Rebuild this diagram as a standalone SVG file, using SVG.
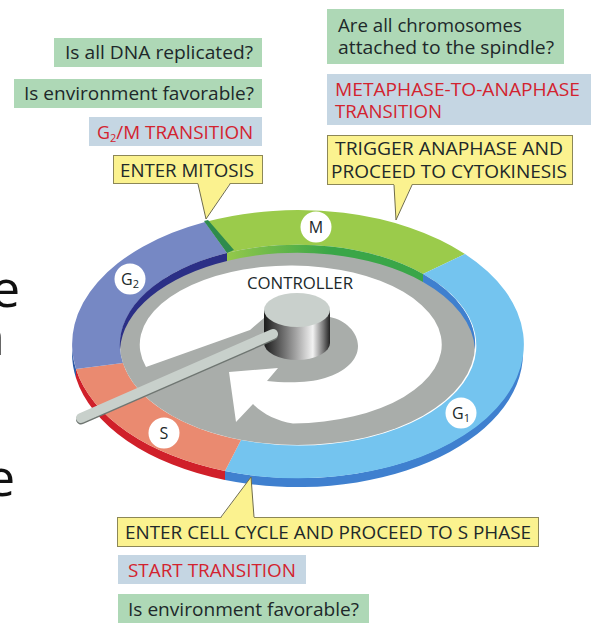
<svg xmlns="http://www.w3.org/2000/svg" width="603" height="635" viewBox="0 0 603 635">
<style>
text{font-family:"Open Sans","Noto Sans","Liberation Sans",sans-serif;font-size:18px;fill:#20282a}
.r{fill:#d3232f}
.q{fill:#aed8b6}
.t{fill:#c5d6e3}
.a{fill:#fbf28f;stroke:#8c8757;stroke-width:1}
.c{fill:#fff}
.p{fill:#fbf28f}
.pl{fill:none;stroke:#6f6c4a;stroke-width:1}
.l{font-size:16px;text-anchor:middle}
.b{font-size:52px;fill:#111}
</style>
<defs>
<linearGradient id="cyl" x1="0" x2="1" y1="0" y2="0">
<stop offset="0" stop-color="#1c1c1c"/><stop offset=".12" stop-color="#3c3c3c"/><stop offset=".5" stop-color="#a8a8a8"/><stop offset=".74" stop-color="#f2f2f2"/><stop offset=".9" stop-color="#777"/><stop offset="1" stop-color="#222"/>
</linearGradient>
<linearGradient id="mw" gradientUnits="userSpaceOnUse" x1="227" x2="330" y1="0" y2="0">
<stop offset="0" stop-color="#94c84b"/><stop offset="1" stop-color="#3aa648"/>
</linearGradient>
</defs>
<g id="background-fragments">
<text class="b" x="-9" y="307">e</text>
<text class="b" x="-27" y="355">n</text>
<text class="b" x="-14" y="496">e</text>
</g>
<g id="wheel">
<path fill="#3f80cf" d="M523,344 L523,353 A225.5 134 0 0 1 225,480 L225,471 A225.5 134 0 0 0 523,344 Z"/>
<path fill="#d0202a" d="M225,480 A225.5 134 0 0 1 76,378 L76,369 A225.5 134 0 0 0 225,471 Z"/>
<path fill="#2f5ca8" d="M76,378 A225.5 134 0 0 1 72,353 L72,344 A225.5 134 0 0 0 76,369 Z"/>
<g id="phase-M"><path fill="#9bcb4b" d="M205,222 A225.5 134 0 0 1 465,254 L423,274 A177.5 100 0 0 0 227,253 Z"/></g>
<g id="phase-G1"><path fill="#74c4ef" d="M465,254 A225.5 134 0 0 1 225,471 L241,440 A177.5 100 0 0 0 423,274 Z"/></g>
<g id="phase-S"><path fill="#ea8a70" d="M225,471 A225.5 134 0 0 1 76,369 L123,363 A177.5 100 0 0 0 241,440 Z"/></g>
<g id="phase-G2"><path fill="#7688c4" d="M76,369 A225.5 134 0 0 1 205,222 L227,253 A177.5 100 0 0 0 123,363 Z"/></g>
<ellipse cx="297.5" cy="345" rx="177.5" ry="100" fill="#a9adaa"/>
<path fill="#2b2f86" d="M120,349.5 A177.5 100 0 0 1 227,253 L227,261 A177.5 100 0 0 0 120,349.5 Z"/>
<path fill="url(#mw)" d="M227,253 A177.5 100 0 0 1 423,274 L423,282 A177.5 100 0 0 0 227,261 Z"/>
<path fill="#3f80cf" d="M423,274 A177.5 100 0 0 1 475,349.5 A177.5 100 0 0 0 423,282 Z"/>
<path fill="#2e8b4e" d="M204,221 L208,220 L234,250 L227,253 Z"/>
<path fill="#fff" d="M146,367 A151 79 0 1 1 293,423.5 C277,421 263,414 253,404 L236,422 L229,372 L278,368 L267,381 C285,383 310,383 325,378 C345,372 358,360 358,346 C358,332 345,320 330,317 L264,318 L250,330 Z"/>
<ellipse cx="297" cy="343" rx="33" ry="17" fill="url(#cyl)"/>
<rect x="264" y="310" width="66" height="33" fill="url(#cyl)"/>
<ellipse cx="297" cy="310" rx="33" ry="17" fill="#c9d0cc"/>
<line x1="81" y1="419.5" x2="273" y2="335.5" stroke="#6f7672" stroke-width="10" stroke-linecap="round"/>
<line x1="81" y1="418" x2="273" y2="334" stroke="#c8d0cb" stroke-width="10" stroke-linecap="round"/>
</g>
<g id="label-M"><circle class="c" cx="316" cy="227" r="15.5"/><text class="l" x="316" y="233">M</text></g>
<g id="label-G2"><circle class="c" cx="130" cy="279" r="15.5"/><text class="l" x="130" y="285">G<tspan style="font-size:11px" dy="3">2</tspan></text></g>
<g id="label-S"><circle class="c" cx="164" cy="433" r="15.5"/><text class="l" x="164" y="439">S</text></g>
<g id="label-G1"><circle class="c" cx="461" cy="413" r="15.5"/><text class="l" x="461" y="419">G<tspan style="font-size:11px" dy="3">1</tspan></text></g>
<g id="controller"><text x="247" y="289" style="font-size:16px" textLength="106" lengthAdjust="spacingAndGlyphs">CONTROLLER</text></g>
<g id="q-dna"><rect class="q" x="54" y="38" width="208" height="29"/><text x="65" y="59" textLength="188" lengthAdjust="spacingAndGlyphs">Is all DNA replicated?</text></g>
<g id="q-env-g2"><rect class="q" x="14" y="79" width="248" height="29"/><text x="24" y="100" textLength="230" lengthAdjust="spacingAndGlyphs">Is environment favorable?</text></g>
<g id="g2m-transition"><rect class="t" x="89" y="117" width="173" height="29"/><text class="r" x="97" y="139"><tspan textLength="13" lengthAdjust="spacingAndGlyphs">G</tspan><tspan style="font-size:11px" dy="3">2</tspan><tspan dy="-3" textLength="137" lengthAdjust="spacingAndGlyphs">/M TRANSITION</tspan></text></g>
<g id="enter-mitosis"><rect class="a" x="113.5" y="155.5" width="149" height="28"/><text x="120" y="177" textLength="134" lengthAdjust="spacingAndGlyphs">ENTER MITOSIS</text></g>
<g id="q-chromosomes"><rect class="q" x="327" y="9" width="237" height="55"/><text x="338" y="32" textLength="184" lengthAdjust="spacingAndGlyphs">Are all chromosomes</text><text x="338" y="54" textLength="216" lengthAdjust="spacingAndGlyphs">attached to the spindle?</text></g>
<g id="metaphase-transition"><rect class="t" x="327" y="74" width="264" height="51"/><text class="r" x="335" y="96" textLength="245" lengthAdjust="spacingAndGlyphs">METAPHASE-TO-ANAPHASE</text><text class="r" x="335" y="118" textLength="107" lengthAdjust="spacingAndGlyphs">TRANSITION</text></g>
<g id="trigger-anaphase"><rect class="a" x="327.5" y="135.5" width="245" height="49"/><text x="335" y="155" textLength="228" lengthAdjust="spacingAndGlyphs">TRIGGER ANAPHASE AND</text><text x="331" y="178" textLength="236" lengthAdjust="spacingAndGlyphs">PROCEED TO CYTOKINESIS</text></g>
<g id="enter-cell-cycle"><rect class="a" x="117.5" y="517.5" width="421" height="29"/><text x="125" y="539" textLength="406" lengthAdjust="spacingAndGlyphs">ENTER CELL CYCLE AND PROCEED TO S PHASE</text></g>
<g id="start-transition"><rect class="t" x="118" y="555" width="188" height="29"/><text class="r" x="128" y="577" textLength="168" lengthAdjust="spacingAndGlyphs">START TRANSITION</text></g>
<g id="q-env-start"><rect class="q" x="118" y="594" width="251" height="29"/><text x="128" y="616" textLength="231" lengthAdjust="spacingAndGlyphs">Is environment favorable?</text></g>
<g id="connectors">
<polygon class="p" points="198,183 206,219 230,183"/><polyline class="pl" points="198,184 206,219 230,184"/>
<polygon class="p" points="394,184 396,220 412,184"/><polyline class="pl" points="394,185 396,220 412,185"/>
<polygon class="p" points="221,518 251,477 254,518"/><polyline class="pl" points="221,517 251,477 254,517"/>
</g>
</svg>
